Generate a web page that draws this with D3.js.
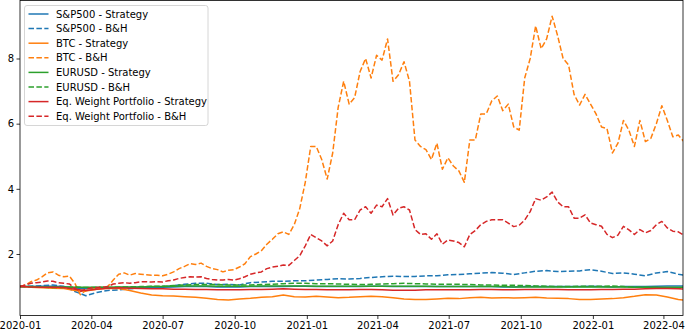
<!DOCTYPE html>
<html>
<head>
<meta charset="utf-8">
<script src="https://cdn.jsdelivr.net/npm/d3@7"></script>
<style>
  body { margin: 0; background: #fff; }
  text { font-family: "DejaVu Sans", sans-serif; }
</style>
</head>
<body>
<svg id="chart"></svg>
<script>
// canvas size
var w = 685;
var h = 331;
var margin = {top: 0.5, right: 2, bottom: 15.5, left: 20};

// series names (legend order)
var names = [
  "S&P500 - Strategy", "S&P500 - B&H",
  "BTC - Strategy", "BTC - B&H",
  "EURUSD - Strategy", "EURUSD - B&H",
  "Eq. Weight Portfolio - Strategy", "Eq. Weight Portfolio - B&H"
];
var colors = ["#1f77b4", "#1f77b4", "#ff7f0e", "#ff7f0e", "#2ca02c", "#2ca02c", "#d62728", "#d62728"];
var dashed = [false, true, false, true, false, true, false, true];

var xTickLabels = ["2020-01", "2020-04", "2020-07", "2020-10", "2021-01", "2021-04",
                   "2021-07", "2021-10", "2022-01", "2022-04"];
var yTickValues = [2, 4, 6, 8];

// weekly values (every 7 days from 2020-01-01)
var btcBH = [1.0, 1.05, 1.15, 1.2, 1.3, 1.42, 1.45, 1.35, 1.3, 1.32,
  1.1, 0.75, 0.88, 0.92, 0.95, 0.95, 1.0, 1.2, 1.38, 1.42,
  1.35, 1.4, 1.38, 1.36, 1.35, 1.35, 1.33, 1.38, 1.45, 1.55,
  1.62, 1.7, 1.68, 1.72, 1.62, 1.55, 1.52, 1.45, 1.5, 1.52,
  1.6, 1.7, 1.92, 2.0, 2.1, 2.3, 2.45, 2.62, 2.68, 2.6,
  2.9, 3.4, 4.2, 5.3, 5.3, 4.9, 4.3, 5.1, 6.5, 7.3,
  6.6, 6.8, 7.6, 8.0, 7.4, 8.1, 7.95, 8.6, 7.3, 7.5,
  7.9, 7.3, 5.5, 5.3, 5.2, 4.9, 5.4, 4.6, 4.95, 4.7,
  4.55, 4.2, 5.5, 5.5, 6.3, 6.3, 6.7, 6.85, 6.4, 6.6,
  5.9, 5.8, 7.4, 8.0, 9.0, 8.3, 8.6, 9.3, 8.7, 8.0,
  7.8, 6.9, 6.57, 6.9, 6.6, 6.3, 5.9, 5.85, 5.1, 5.4,
  6.1, 5.8, 5.3, 6.1, 5.45, 5.55, 6.0, 6.55, 6.1, 5.6,
  5.65, 5.45];
var eqBH = [1.0, 1.05, 1.1, 1.12, 1.14, 1.17, 1.16, 1.12, 1.1, 1.08,
  0.95, 0.85, 0.92, 0.96, 0.97, 0.98, 1.0, 1.08, 1.1, 1.12,
  1.1, 1.12, 1.15, 1.15, 1.14, 1.15, 1.14, 1.18, 1.2, 1.25,
  1.28, 1.3, 1.29, 1.3, 1.25, 1.22, 1.2, 1.2, 1.22, 1.2,
  1.24, 1.3, 1.38, 1.42, 1.45, 1.55, 1.6, 1.62, 1.66, 1.65,
  1.8, 1.95, 2.25, 2.6, 2.5, 2.4, 2.25, 2.4, 2.9, 3.25,
  3.05, 3.05, 3.35, 3.45, 3.25, 3.5, 3.45, 3.7, 3.2, 3.4,
  3.45, 3.35, 2.75, 2.6, 2.62, 2.45, 2.62, 2.3, 2.43, 2.4,
  2.35, 2.22, 2.6, 2.72, 2.9, 3.0, 3.05, 3.05, 3.05, 2.95,
  2.84, 2.88, 3.04, 3.3, 3.7, 3.65, 3.75, 3.9, 3.6, 3.45,
  3.45, 3.1, 3.1, 3.2, 2.95, 2.9, 2.85, 2.6, 2.5, 2.58,
  2.85, 2.74, 2.6, 2.75, 2.65, 2.72, 2.9, 3.0, 2.8, 2.7,
  2.68, 2.58];

// bi-weekly values (every 14 days from 2020-01-01)
var spStrat = [1.0, 1.0, 1.01, 1.01, 1.0, 0.95, 0.93, 0.95, 0.96, 0.97,
  0.97, 0.98, 0.98, 0.98, 0.99, 1.0, 1.0, 1.0, 0.99, 0.99,
  0.99, 1.0, 1.0, 1.0, 1.0, 1.01, 1.01, 1.0, 1.0, 1.0,
  1.0, 1.0, 1.01, 1.01, 1.0, 1.0, 1.0, 1.0, 1.0, 1.0,
  1.0, 1.0, 1.0, 1.0, 0.99, 0.99, 1.0, 1.0, 1.0, 1.0,
  1.0, 1.0, 1.01, 1.0, 0.99, 1.0, 1.0, 1.0, 1.01, 1.02,
  1.02, 1.02];
var spBH = [1.0, 1.01, 1.03, 1.05, 1.0, 0.85, 0.72, 0.82, 0.88, 0.9,
  0.93, 0.97, 0.96, 1.0, 1.03, 1.07, 1.1, 1.1, 1.06, 1.07,
  1.05, 1.12, 1.14, 1.16, 1.16, 1.18, 1.18, 1.2, 1.22, 1.24,
  1.23, 1.25, 1.28, 1.3, 1.32, 1.31, 1.31, 1.33, 1.33, 1.36,
  1.37, 1.39, 1.41, 1.43, 1.41, 1.37, 1.42, 1.47, 1.49, 1.46,
  1.47, 1.48, 1.52, 1.47, 1.4, 1.42, 1.38, 1.33, 1.42, 1.46,
  1.38, 1.32];
var btcStrat = [1.0, 0.98, 0.96, 0.95, 0.94, 0.88, 0.86, 0.92, 0.95, 0.94,
  0.88, 0.8, 0.74, 0.72, 0.71, 0.69, 0.67, 0.64, 0.6, 0.59,
  0.62, 0.64, 0.67, 0.69, 0.74, 0.69, 0.68, 0.7, 0.68, 0.66,
  0.67, 0.69, 0.7, 0.69, 0.66, 0.62, 0.6, 0.6, 0.62, 0.64,
  0.63, 0.66, 0.67, 0.65, 0.66, 0.65, 0.66, 0.67, 0.65, 0.64,
  0.63, 0.6, 0.6, 0.62, 0.63, 0.66, 0.7, 0.75, 0.74, 0.68,
  0.6, 0.57];
var eurStrat = [1.0, 1.0, 0.99, 0.99, 0.99, 0.98, 0.98, 0.98, 0.98, 0.99,
  0.99, 0.99, 1.0, 1.0, 1.01, 1.02, 1.02, 1.02, 1.01, 1.01,
  1.01, 1.01, 1.02, 1.02, 1.02, 1.02, 1.02, 1.01, 1.01, 1.01,
  1.01, 1.01, 1.01, 1.01, 1.01, 1.01, 1.01, 1.01, 1.0, 1.0,
  1.0, 1.0, 1.0, 1.0, 1.0, 0.99, 0.99, 0.99, 0.99, 0.99,
  0.99, 0.99, 0.99, 0.99, 0.99, 0.99, 0.98, 0.98, 0.98, 0.98,
  0.98, 0.98];
var eurBH = [1.0, 0.99, 0.98, 0.97, 0.97, 0.99, 0.97, 0.98, 0.97, 0.98,
  0.99, 1.0, 1.01, 1.01, 1.03, 1.05, 1.06, 1.06, 1.06, 1.05,
  1.05, 1.05, 1.06, 1.07, 1.09, 1.1, 1.1, 1.09, 1.09, 1.08,
  1.07, 1.06, 1.07, 1.08, 1.09, 1.1, 1.09, 1.08, 1.07, 1.07,
  1.07, 1.06, 1.05, 1.05, 1.04, 1.04, 1.03, 1.02, 1.01, 1.0,
  1.0, 1.01, 1.01, 1.01, 1.02, 1.0, 0.98, 0.98, 0.97, 0.96,
  0.95, 0.94];
var eqStrat = [1.0, 0.99, 0.98, 0.98, 0.97, 0.92, 0.88, 0.92, 0.95, 0.96,
  0.95, 0.94, 0.93, 0.93, 0.92, 0.92, 0.91, 0.91, 0.9, 0.9,
  0.9, 0.91, 0.91, 0.92, 0.93, 0.92, 0.91, 0.91, 0.9, 0.9,
  0.9, 0.91, 0.91, 0.9, 0.89, 0.89, 0.89, 0.9, 0.9, 0.9,
  0.9, 0.9, 0.91, 0.91, 0.9, 0.9, 0.91, 0.91, 0.91, 0.91,
  0.9, 0.9, 0.9, 0.91, 0.91, 0.92, 0.92, 0.93, 0.94, 0.94,
  0.93, 0.92];

var start = new Date(2020, 0, 1);
var seriesValues = [spStrat, spBH, btcStrat, btcBH, eurStrat, eurBH, eqStrat, eqBH];
var seriesStep = [14, 14, 14, 7, 14, 14, 14, 7];

var x = d3.scaleTime()
  .domain([start, new Date(2022, 3, 26)])
  .range([margin.left, w - margin.right]);
var y = d3.scaleLinear()
  .domain([0.112, 9.78])
  .range([h - margin.bottom, margin.top]);

var svg = d3.select("#chart").attr("width", w).attr("height", h);

svg.append("clipPath").attr("id", "clip")
  .append("rect")
  .attr("x", margin.left).attr("y", margin.top)
  .attr("width", w - margin.left - margin.right)
  .attr("height", h - margin.top - margin.bottom);

var line = d3.line()
  .x(d => x(d.date))
  .y(d => y(d.value));

var plot = svg.append("g").attr("clip-path", "url(#clip)");
seriesValues.forEach((vals, i) => {
  var pts = vals.map((v, k) => ({date: d3.timeDay.offset(start, k * seriesStep[i]), value: v}));
  plot.append("path")
    .datum(pts)
    .attr("d", line)
    .attr("fill", "none")
    .attr("stroke", colors[i])
    .attr("stroke-width", 1.5)
    .attr("stroke-dasharray", dashed[i] ? "5.5,2.4" : null)
    .attr("stroke-linejoin", "round");
});

// axes
var xTicks = xTickLabels.map(s => d3.timeParse("%Y-%m")(s));
var xAxis = d3.axisBottom(x)
  .tickValues(xTicks)
  .tickFormat(d3.timeFormat("%Y-%m"))
  .tickSize(3.5)
  .tickPadding(2.5);
var gx = svg.append("g")
  .attr("transform", `translate(0,${h - margin.bottom})`)
  .call(xAxis);

var yAxis = d3.axisLeft(y)
  .tickValues(yTickValues)
  .tickFormat(d3.format("d"))
  .tickSize(3.5)
  .tickPadding(2.5);
var gy = svg.append("g")
  .attr("transform", `translate(${margin.left},0)`)
  .call(yAxis);

[gx, gy].forEach(g => {
  g.select(".domain").remove();
  g.selectAll("line").attr("stroke", "#000").attr("stroke-width", 0.8);
  g.selectAll("text").attr("fill", "#000").style("font-size", "10px");
});

// frame
svg.append("rect")
  .attr("x", margin.left).attr("y", margin.top)
  .attr("width", w - margin.left - margin.right)
  .attr("height", h - margin.top - margin.bottom)
  .attr("fill", "none")
  .attr("stroke", "#000")
  .attr("stroke-width", 0.8);

// legend
var legend = svg.append("g");
legend.append("rect")
  .attr("x", 24.5).attr("y", 5.5)
  .attr("width", 183.5).attr("height", 120)
  .attr("rx", 2.5)
  .attr("fill", "#fff").attr("fill-opacity", 0.8)
  .attr("stroke", "#ccc").attr("stroke-width", 0.8);

names.forEach((n, i) => {
  var ly = 14 + i * 14.6;
  legend.append("line")
    .attr("x1", 28.5).attr("x2", 48.5)
    .attr("y1", ly).attr("y2", ly)
    .attr("stroke", colors[i])
    .attr("stroke-width", 1.5)
    .attr("stroke-dasharray", dashed[i] ? "5.5,2.4" : null);
  legend.append("text")
    .attr("x", 56).attr("y", ly)
    .attr("dy", "0.35em")
    .style("font-size", "10px")
    .attr("fill", "#000")
    .text(n);
});
</script>
</body>
</html>
